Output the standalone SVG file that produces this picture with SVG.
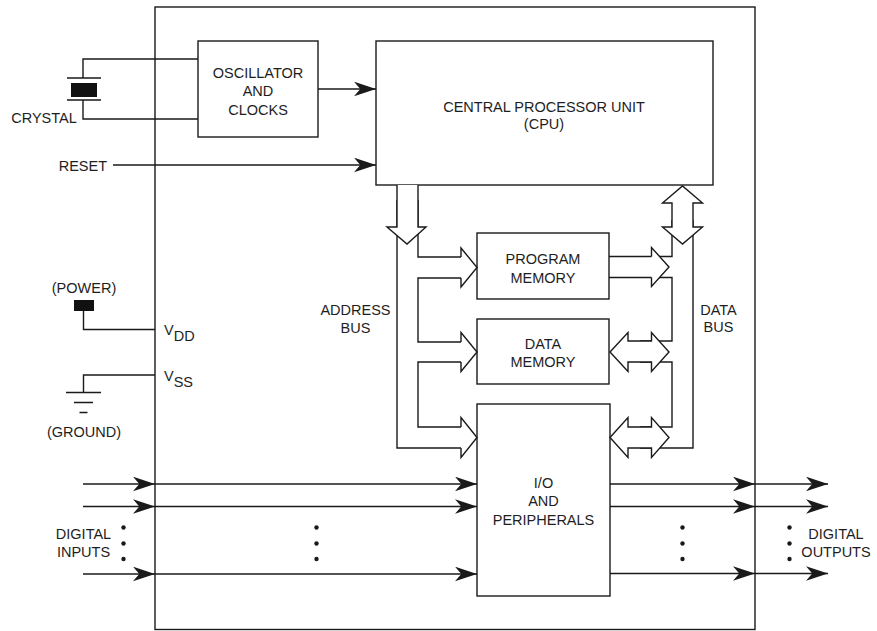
<svg xmlns="http://www.w3.org/2000/svg" width="877" height="631" viewBox="0 0 877 631">
<style>
.ln{fill:none;stroke:#1a1a1a;stroke-width:1.4}
.bx{fill:#fff;stroke:#1a1a1a;stroke-width:1.4}
.ha{fill:#fff;stroke:#1a1a1a;stroke-width:1.4;stroke-linejoin:miter}
.ar{fill:none;stroke:#1a1a1a;stroke-width:1.4;marker-end:url(#ah)}
.t{font-family:"Liberation Sans",Arial,sans-serif;font-size:14.5px;fill:#1e1e1e}
.m{text-anchor:middle}
.e{text-anchor:end}
.dot{fill:#1a1a1a}
</style>
<defs>
<marker id="ah" markerUnits="userSpaceOnUse" markerWidth="22" markerHeight="15" refX="21" refY="7" orient="auto" viewBox="0 0 21 14">
<path d="M0,0 L21,7 L0,14 L6,7 Z" fill="#1a1a1a"/>
</marker>
</defs>
<rect width="877" height="631" fill="#fff"/>

<g id="chip">
<rect class="ln" x="155" y="7" width="600" height="622.5"/>
</g>

<g id="crystal">
<path class="ln" d="M198,59 H83 V78 M198,119 H83 V100"/>
<path class="ln" d="M67,78 H101 M67,100 H101"/>
<rect x="71" y="83" width="26" height="14" fill="#111"/>
<text class="t m" x="44" y="123">CRYSTAL</text>
</g>

<g id="oscillator">
<rect class="bx" x="198" y="41" width="120" height="96"/>
<text class="t m" x="258" y="77.5">OSCILLATOR</text>
<text class="t m" x="258" y="96">AND</text>
<text class="t m" x="258" y="114.5">CLOCKS</text>
</g>

<g id="cpu">
<rect class="bx" x="376" y="41" width="337" height="144"/>
<text class="t m" x="544" y="111.5">CENTRAL PROCESSOR UNIT</text>
<text class="t m" x="544" y="129">(CPU)</text>
</g>

<g id="program-memory">
<rect class="bx" x="477" y="233" width="132" height="66"/>
<text class="t m" x="543" y="264">PROGRAM</text>
<text class="t m" x="543" y="282.5">MEMORY</text>
</g>

<g id="data-memory">
<rect class="bx" x="477" y="319" width="132" height="65"/>
<text class="t m" x="543" y="348.5">DATA</text>
<text class="t m" x="543" y="367">MEMORY</text>
</g>

<g id="io">
<rect class="bx" x="477" y="404" width="133" height="192"/>
<text class="t m" x="543.5" y="487.5">I/O</text>
<text class="t m" x="543.5" y="506">AND</text>
<text class="t m" x="543.5" y="524.5">PERIPHERALS</text>
</g>

<g id="power">
<text class="t m" x="84" y="293">(POWER)</text>
<rect x="74" y="300" width="20" height="11" fill="#111"/>
<path class="ln" d="M83.5,311 V329.5 H155"/>
<text class="t" x="164" y="335">V<tspan dy="6">DD</tspan></text>
</g>

<g id="ground">
<path class="ln" d="M155,375 H83.5 V392.5"/>
<path class="ln" d="M66,392.5 H101 M74,402.5 H93 M79.5,412.5 H87.5"/>
<text class="t m" x="84" y="436.5">(GROUND)</text>
<text class="t" x="164" y="381">V<tspan dy="6">SS</tspan></text>
</g>

<g id="labels">
<text class="t e" x="107" y="171">RESET</text>
<text class="t m" x="355.5" y="315">ADDRESS</text>
<text class="t m" x="355.5" y="333">BUS</text>
<text class="t m" x="718.5" y="315">DATA</text>
<text class="t m" x="718.5" y="332">BUS</text>
<text class="t m" x="83.5" y="538.5">DIGITAL</text>
<text class="t m" x="83.5" y="557">INPUTS</text>
<text class="t m" x="836" y="538.5">DIGITAL</text>
<text class="t m" x="836" y="557">OUTPUTS</text>
</g>

<g id="connectors">
<line class="ar" x1="318" y1="89" x2="376" y2="89"/>
<line class="ar" x1="113" y1="165" x2="376" y2="165"/>

<!-- address bus -->
<path class="ln" d="M397,200 V448 H461"/>
<path class="ln" d="M418,200 V257 H461"/>
<path class="ln" d="M461,278 H418 V342 H461"/>
<path class="ln" d="M461,362 H418 V427 H461"/>
<path class="ha" d="M397,185 V227 H387 L407,244 L426,227 H418 V185"/>
<path class="ha" d="M461,257 V248 L477,267.5 L461,287 V278"/>
<path class="ha" d="M461,342 V332.5 L477,352 L461,371.5 V362"/>
<path class="ha" d="M461,427 V417.5 L477,437.5 L461,457.5 V448"/>

<!-- data bus -->
<path class="ln" d="M672,220 V256.5 H609"/>
<path class="ln" d="M609,277.5 H672 V341 H640"/>
<path class="ln" d="M640,362 H672 V427 H640"/>
<path class="ln" d="M640,448 H693 V220"/>
<path class="ha" d="M672,203 H662.5 L682.5,186 L702.5,203 H693 V227 H702.5 L682.5,244 L662.5,227 H672 Z"/>
<path class="ha" d="M651.5,256.5 V247.5 L669,267 L651.5,286.5 V277.5"/>
<path class="ha" d="M610,352 L628,332.5 V341 H651.5 V332.5 L669,352 L651.5,371.5 V362 H628 V371.5 Z"/>
<path class="ha" d="M610,437.5 L628,417.5 V427 H651.5 V417.5 L669,437.5 L651.5,457.5 V448 H628 V457.5 Z"/>

<!-- digital inputs -->
<line class="ar" x1="83" y1="484" x2="155" y2="484"/>
<line class="ar" x1="155" y1="484" x2="477" y2="484"/>
<line class="ar" x1="83" y1="506.5" x2="155" y2="506.5"/>
<line class="ar" x1="155" y1="506.5" x2="477" y2="506.5"/>
<line class="ar" x1="83" y1="574" x2="155" y2="574"/>
<line class="ar" x1="155" y1="574" x2="477" y2="574"/>

<!-- digital outputs -->
<line class="ar" x1="610" y1="484" x2="755" y2="484"/>
<line class="ar" x1="755" y1="484" x2="828" y2="484"/>
<line class="ar" x1="610" y1="506.5" x2="755" y2="506.5"/>
<line class="ar" x1="755" y1="506.5" x2="828" y2="506.5"/>
<line class="ar" x1="610" y1="573.5" x2="755" y2="573.5"/>
<line class="ar" x1="755" y1="573.5" x2="828" y2="573.5"/>
</g>

<g id="ellipsis">
<circle class="dot" cx="123.5" cy="527.5" r="2.2"/>
<circle class="dot" cx="123.5" cy="543.5" r="2.2"/>
<circle class="dot" cx="123.5" cy="559" r="2.2"/>
<circle class="dot" cx="316.5" cy="527.5" r="2.2"/>
<circle class="dot" cx="316.5" cy="543.5" r="2.2"/>
<circle class="dot" cx="316.5" cy="559" r="2.2"/>
<circle class="dot" cx="682.5" cy="527.5" r="2.2"/>
<circle class="dot" cx="682.5" cy="543.5" r="2.2"/>
<circle class="dot" cx="682.5" cy="559" r="2.2"/>
<circle class="dot" cx="789.5" cy="527.5" r="2.2"/>
<circle class="dot" cx="789.5" cy="543.5" r="2.2"/>
<circle class="dot" cx="789.5" cy="559" r="2.2"/>
</g>
</svg>
